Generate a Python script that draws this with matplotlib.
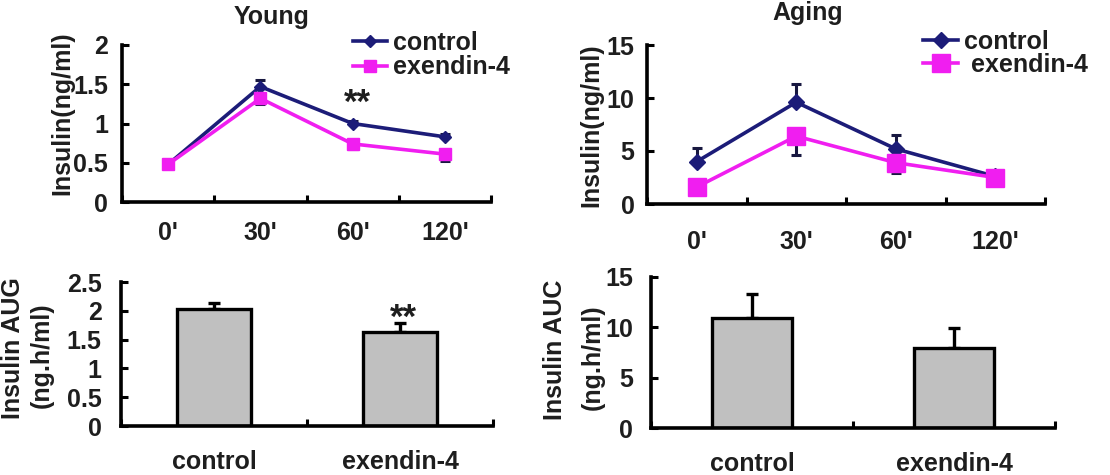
import matplotlib
matplotlib.use('Agg')
import matplotlib.pyplot as plt
import numpy as np

# data
timeLabels = ["0'", "30'", "60'", "120'"]
groupLabels = ['control', 'exendin-4']

youngControl = [0.48, 1.47, 1.00, 0.83]
youngControlErr = [0.03, 0.08, 0.03, 0.03]
youngExendin = [0.48, 1.32, 0.74, 0.61]
youngExendinErr = [0.05, 0.07, 0.06, 0.09]

agingControl = [4.0, 9.6, 5.2, 2.6]
agingControlErr = [1.3, 1.7, 1.3, 0.4]
agingExendin = [1.6, 6.4, 3.9, 2.5]
agingExendinErr = [0.5, 1.8, 1.0, 0.4]

youngAuc = [2.03, 1.64]
youngAucErr = [0.10, 0.15]
agingAuc = [10.9, 7.9]
agingAucErr = [2.4, 2.0]

youngTicks = [0, 0.5, 1, 1.5, 2]
youngTickLabels = ['0', '0.5', '1', '1.5', '2']
agingTicks = [0, 5, 10, 15]
agingTickLabels = ['0', '5', '10', '15']
youngAucTicks = [0, 0.5, 1, 1.5, 2, 2.5]
youngAucTickLabels = ['0', '0.5', '1', '1.5', '2', '2.5']

navy = '#1c1c78'
magenta = '#f01ef0'
textColor = '#1e1e1e'
barGray = '#c0c0c0'
fontSize = 18

W, H = 1110, 475
plt.rcParams['font.family'] = ['Liberation Sans', 'DejaVu Sans']
plt.rcParams['font.weight'] = 'bold'
plt.rcParams['text.color'] = textColor

fig = plt.figure(figsize=(W / 100, H / 100), dpi=100)


def box(x0, x1, yTop, yBottom):
    # pixel box -> figure fraction
    return [x0 / W, 1 - yBottom / H, (x1 - x0) / W, (yBottom - yTop) / H]


def fig_text(x, y, s, **kw):
    fig.text(x / W, 1 - y / H, s, fontsize=fontSize, fontweight='bold',
             color=textColor, **kw)


def style_axes(ax, nCats, yticks, ylabels, xpad, ypad):
    for side in ['top', 'right']:
        ax.spines[side].set_visible(False)
    for side in ['left', 'bottom']:
        ax.spines[side].set_linewidth(2.6)
        ax.spines[side].set_color('black')
        ax.spines[side].set_capstyle('projecting')
    ax.set_xlim(-0.5, nCats - 0.5)
    ax.set_ylim(yticks[0], yticks[-1])
    ax.set_yticks(yticks, ylabels)
    ax.set_xticks(np.arange(nCats + 1) - 0.5, minor=True)
    ax.tick_params(axis='y', direction='in', length=5, width=2.2,
                   labelsize=fontSize, pad=ypad, colors='black',
                   labelcolor=textColor)
    ax.tick_params(axis='x', which='major', length=0, labelsize=fontSize,
                   pad=xpad, labelcolor=textColor)
    ax.tick_params(axis='x', which='minor', direction='in', length=5,
                   width=2.2, color='black')
    for lab in ax.get_xticklabels() + ax.get_yticklabels():
        lab.set_fontweight('bold')


def line_panel(ax, control, controlErr, exendin, exendinErr, dSize, sSize):
    x = np.arange(len(timeLabels))
    zeros = np.zeros(len(x))
    ax.errorbar(x, control, yerr=[zeros, controlErr], fmt='none',
                ecolor='#181840', elinewidth=2.2, capsize=3.5, capthick=2.2,
                zorder=2)
    ax.errorbar(x, exendin, yerr=[exendinErr, zeros], fmt='none',
                ecolor='#181840', elinewidth=2.2, capsize=3.5, capthick=2.2,
                zorder=2)
    l1, = ax.plot(x, control, color=navy, lw=2.6, marker='D',
                  markersize=dSize, label='control', zorder=3)
    l2, = ax.plot(x, exendin, color=magenta, lw=2.6, marker='s',
                  markersize=sSize, label='exendin-4', zorder=3)
    ax.set_xticks(x, timeLabels)
    return l1, l2


def bar_panel(ax, values, errs):
    x = np.arange(len(groupLabels))
    ax.bar(x, values, width=0.4, color=barGray, edgecolor='black',
           linewidth=2.4, zorder=2)
    ax.errorbar(x, values, yerr=[np.zeros(len(x)), errs], fmt='none',
                ecolor='black', elinewidth=2.4, capsize=4, capthick=2.4,
                zorder=1)
    ax.set_xticks(x, groupLabels)


# top left: Young
ax1 = fig.add_axes(box(122, 491, 45, 202))
h = line_panel(ax1, youngControl, youngControlErr, youngExendin,
               youngExendinErr, 6.5, 8.5)
style_axes(ax1, 4, youngTicks, youngTickLabels, 14, 10)
ax1.text(2.05, 1.13, '**', fontsize=25, fontweight='bold', ha='center',
         va='baseline', color=textColor)
ax1.legend(h, ['control', 'exendin-4'], loc='upper left',
           bbox_to_anchor=(353 / W, 1 - 31 / H), bbox_transform=fig.transFigure,
           frameon=False, handlelength=1.35, handletextpad=0.25,
           labelspacing=0.02, borderpad=0, borderaxespad=0,
           prop={'weight': 'bold', 'size': fontSize})

# top right: Aging
ax2 = fig.add_axes(box(647, 1045, 45, 204))
h = line_panel(ax2, agingControl, agingControlErr, agingExendin,
               agingExendinErr, 8.5, 13)
style_axes(ax2, 4, agingTicks, agingTickLabels, 19, 9)
ax2.legend(h, ['control', ' exendin-4'], loc='upper left',
           bbox_to_anchor=(923 / W, 1 - 30 / H), bbox_transform=fig.transFigure,
           frameon=False, handlelength=1.4, handletextpad=0.25,
           labelspacing=-0.04, borderpad=0, borderaxespad=0,
           prop={'weight': 'bold', 'size': fontSize})

# bottom left: Young AUC
ax3 = fig.add_axes(box(121, 493, 282, 426))
bar_panel(ax3, youngAuc, youngAucErr)
style_axes(ax3, 2, youngAucTicks, youngAucTickLabels, 17, 14)
ax3.text(1.02, 1.70, '**', fontsize=25, fontweight='bold', ha='center',
         va='baseline', color=textColor)

# bottom right: Aging AUC
ax4 = fig.add_axes(box(651, 1055, 277, 428))
bar_panel(ax4, agingAuc, agingAucErr)
style_axes(ax4, 2, agingTicks, agingTickLabels, 17, 13)

# titles and y labels
fig_text(272, 17, 'Young', ha='center', va='center')
fig_text(808, 13, 'Aging', ha='center', va='center')
fig_text(62, 113, 'Insulin(ng/ml)', rotation=90, ha='center', va='center')
fig_text(591, 125, 'Insulin(ng/ml)', rotation=90, ha='center', va='center')
fig_text(13, 348, 'Insulin AUG', rotation=90, ha='center', va='center')
fig_text(42, 355, '(ng.h/ml)', rotation=90, ha='center', va='center')
fig_text(555, 350, 'Insulin AUC', rotation=90, ha='center', va='center')
fig_text(593, 357, '(ng.h/ml)', rotation=90, ha='center', va='center')

fig.savefig('out.png', dpi=100, facecolor='white')
